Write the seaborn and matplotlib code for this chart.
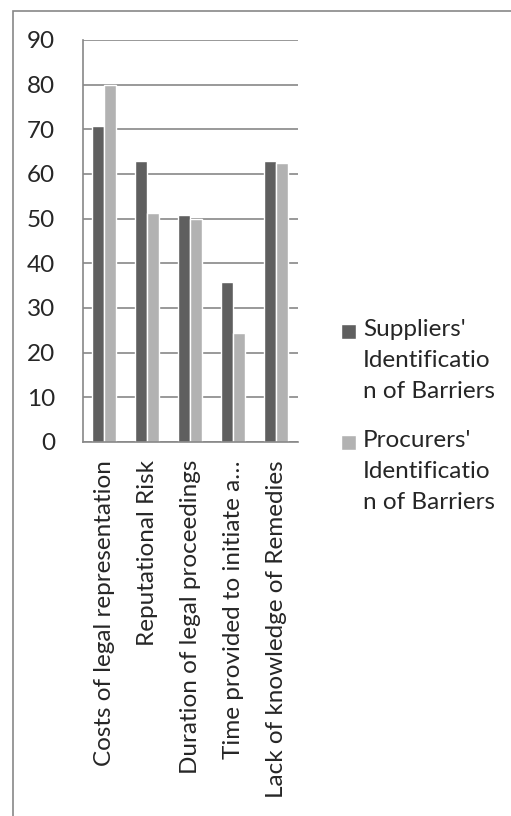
import pandas as pd
import matplotlib.pyplot as plt
import seaborn as sns
from matplotlib.patches import Rectangle
from matplotlib.legend_handler import HandlerPatch

categories = [
    "Costs of legal representation",
    "Reputational Risk",
    "Duration of legal proceedings",
    "Time provided to initiate a…",
    "Lack of knowledge of Remedies",
]
suppliers = [70.8, 63.0, 50.9, 35.9, 63.0]
procurers = [80.0, 51.3, 49.9, 24.5, 62.4]
series = ["Suppliers'\nIdentificatio\nn of Barriers", "Procurers'\nIdentificatio\nn of Barriers"]
yticks = list(range(0, 100, 10))

df = pd.DataFrame({
    "barrier": categories * 2,
    "pct": suppliers + procurers,
    "who": [series[0]] * len(categories) + [series[1]] * len(categories),
})

sns.set_style("white")
plt.rcParams["font.family"] = ["Lato", "DejaVu Sans"]
FS = 17.5

fig = plt.figure(figsize=(5.11, 8.16), dpi=100)
ax = fig.add_axes([82.7 / 511, 1 - 442 / 816, 215 / 511, 402 / 816])

sns.barplot(data=df, x="barrier", y="pct", hue="who", order=categories,
            palette=["#5f5f5f", "#b2b2b2"], width=0.56, gap=0,
            saturation=1, ax=ax, legend=True)

ax.set_ylim(0, 90)
ax.set_xlim(-0.5, len(categories) - 0.5)
ax.set_yticks(yticks)
ax.set_yticklabels([str(t) for t in yticks], fontsize=FS)
ax.grid(axis="y", color="#878787", linewidth=1.2)
ax.set_axisbelow(True)
ax.tick_params(axis="y", length=9, color="#878787", width=1.2, pad=11)
ax.set_xticks(range(len(categories)))
ax.set_xticklabels(categories, rotation=90, fontsize=FS)
ax.tick_params(axis="x", length=0, pad=13)
ax.set_xticks([i - 0.5 for i in range(len(categories) + 1)], minor=True)
ax.tick_params(axis="x", which="minor", length=7, color="#878787", width=1.2, direction="out")
ax.set_xlabel("")
ax.set_ylabel("")
for side in ["top", "right"]:
    ax.spines[side].set_visible(False)
for side in ["left", "bottom"]:
    ax.spines[side].set_color("#878787")
    ax.spines[side].set_linewidth(1.2)


# legend square sits on the first text line, as in the spreadsheet legend
def top_square(legend, orig_handle, xdescent, ydescent, width, height, fontsize):
    size = 0.62 * fontsize
    return Rectangle((-xdescent, -ydescent + height - size + 0.2 * fontsize), size, size)


handles, labels = ax.get_legend_handles_labels()
ax.legend_.remove()
leg = fig.legend(handles, labels, loc="center left", bbox_to_anchor=(331 / 511, 1 - 416 / 816),
                 frameon=False, fontsize=FS, handlelength=0.62, handleheight=3.9,
                 handletextpad=0.3, labelspacing=1.15, borderaxespad=0,
                 handler_map={h: HandlerPatch(patch_func=top_square) for h in handles})
for t in leg.get_texts():
    t.set_linespacing(1.6)

fig.patches.append(Rectangle((13 / 511, -0.1), 1.2, 1.1 - 11 / 816,
                             transform=fig.transFigure, fill=False,
                             edgecolor="#878787", linewidth=1.2))

fig.savefig("out.png", dpi=100)
